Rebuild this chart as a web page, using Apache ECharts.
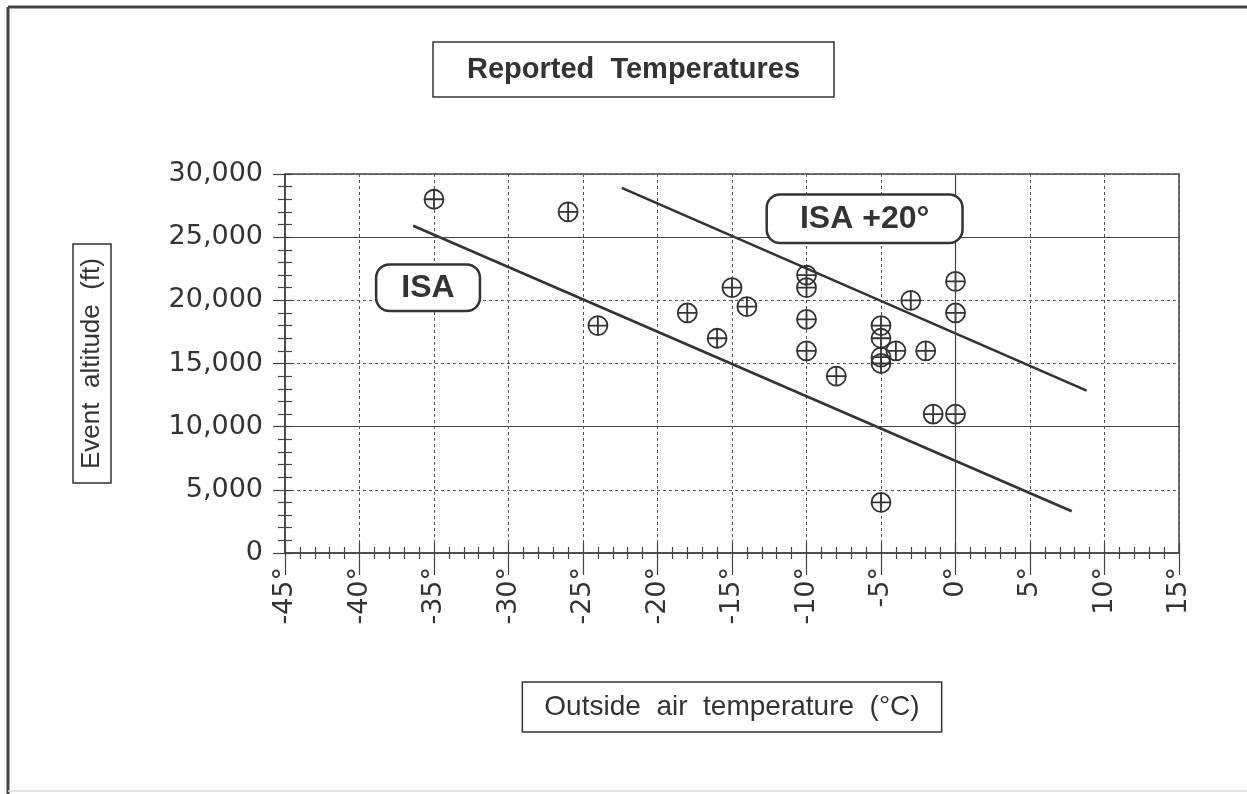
<!DOCTYPE html>
<html>
<head>
<meta charset="utf-8">
<script src="https://cdn.jsdelivr.net/npm/echarts@6/dist/echarts.min.js"></script>
<style>
  html, body { margin: 0; padding: 0; background: #fff; }
  #chart { width: 1247px; height: 794px; }
</style>
</head>
<body>
<div id="chart"></div>
<script>
// reported events: outside air temp (deg C) and altitude (ft)
const temps = [-35, -26, -24, -18, -16, -15, -14, -10, -10, -10, -10, -8, -5, -5, -5, -5, -5, -4, -3, -2, -1.5, 0, 0, 0]
const alts = [28000, 27000, 18000, 19000, 17000, 21000, 19500, 22000, 21000, 18500, 16000, 14000, 18000, 17000, 15500, 15000, 4000, 16000, 20000, 16000, 11000, 11000, 19000, 21500]

// reference lines (end points)
const isaT = [-36.4, 7.8]
const isaAlt = [25900, 3300]
const isa20T = [-22.4, 8.8]
const isa20Alt = [28900, 12850]

// label anchors
const isaLabelPos = [-35.4, 21000]
const isa20LabelPos = [-6.1, 26450]

const xTicks = { min: -45, max: 15, step: 5 }
const yTicks = { min: 0, max: 30000, step: 5000 }

const ink = '#333'
const font = 'Liberation Sans, Arial, Helvetica, sans-serif'
const tickFont = 'DejaVu Sans, Liberation Sans, sans-serif'

const pairs = (xs, ys) => xs.map((x, i) => [x, ys[i]])

const oplus = 'path://M10,0A10,10,0,1,1,10,20A10,10,0,1,1,10,0ZM0,10L20,10M10,0L10,20'

const boxLabel = (text, pad) => ({
  show: true,
  position: 'inside',
  formatter: text,
  fontFamily: font,
  fontWeight: 'bold',
  fontSize: 32,
  lineHeight: 32,
  color: ink,
  backgroundColor: '#fff',
  borderColor: ink,
  borderWidth: 2.5,
  borderRadius: 12,
  padding: pad
})

const chart = echarts.init(document.getElementById('chart'))

chart.setOption({
  backgroundColor: '#fff',
  animation: false,
  title: {
    text: 'Reported  Temperatures',
    left: 433,
    top: 42,
    padding: [12, 34, 12, 34],
    borderColor: ink,
    borderWidth: 1.5,
    textStyle: { fontFamily: font, fontSize: 29, fontWeight: 'bold', color: ink, lineHeight: 31 }
  },
  graphic: [
    { type: 'line', shape: { x1: 8, y1: 7, x2: 1247, y2: 7 }, style: { stroke: '#444', lineWidth: 3 } },
    { type: 'line', shape: { x1: 8, y1: 7, x2: 8, y2: 794 }, style: { stroke: '#444', lineWidth: 3 } },
    { type: 'line', shape: { x1: 8, y1: 791, x2: 1247, y2: 791 }, style: { stroke: '#ddd', lineWidth: 1.5 } }
  ],
  grid: {
    left: 285, right: 68, top: 174, bottom: 241,
    show: true, borderColor: '#444', borderWidth: 1.5
  },
  xAxis: [{
    type: 'value',
    position: 'bottom',
    min: xTicks.min, max: xTicks.max, interval: xTicks.step,
    axisLine: { onZero: false, lineStyle: { color: '#444', width: 1.5 } },
    axisTick: { length: 22, lineStyle: { color: '#444', width: 1.2 } },
    minorTick: { show: true, splitNumber: 5, length: 6, lineStyle: { color: '#444', width: 1.2 } },
    splitLine: { lineStyle: { color: '#555', type: [3, 3], width: 1 } },
    axisLabel: {
      rotate: 90, margin: 14,
      fontFamily: tickFont, fontSize: 27, color: ink,
      formatter: v => v + '°'
    },
    name: 'Outside  air  temperature  (°C)',
    nameLocation: 'middle',
    nameGap: 129,
    nameTextStyle: {
      fontFamily: font, fontSize: 28, color: ink,
      borderColor: ink, borderWidth: 1.5,
      padding: [11, 22, 11, 22]
    }
  }, {
    type: 'value',
    position: 'bottom',
    min: xTicks.min, max: xTicks.max, interval: xTicks.step,
    axisLine: { show: false, onZero: false },
    axisTick: { inside: true, length: 10, lineStyle: { color: '#444', width: 1.2 } },
    minorTick: { show: true, splitNumber: 5, length: 6, lineStyle: { color: '#444', width: 1.2 } },
    splitLine: { show: false },
    axisLabel: { show: false }
  }],
  yAxis: [{
    type: 'value',
    position: 'left',
    min: yTicks.min, max: yTicks.max, interval: yTicks.step,
    axisLine: { show: true, onZero: false, lineStyle: { color: '#444', width: 1.5 } },
    axisTick: { show: true, length: 12, lineStyle: { color: '#444', width: 1.2 } },
    minorTick: { show: true, splitNumber: 5, length: 7, lineStyle: { color: '#444', width: 1.2 } },
    splitLine: { lineStyle: { color: '#555', type: [3, 3], width: 1 } },
    axisLabel: {
      margin: 22,
      fontFamily: tickFont, fontSize: 27, color: ink,
      formatter: v => v.toLocaleString('en-US')
    },
    name: 'Event  altitude  (ft)',
    nameLocation: 'middle',
    nameRotate: 90,
    nameGap: 174,
    nameTextStyle: {
      fontFamily: font, fontSize: 26, color: ink,
      borderColor: ink, borderWidth: 1.5,
      padding: [6, 14, 6, 14]
    }
  }, {
    type: 'value',
    position: 'left',
    min: yTicks.min, max: yTicks.max, interval: yTicks.step,
    axisLine: { show: false, onZero: false },
    axisTick: { show: true, inside: true, length: 7, lineStyle: { color: '#444', width: 1.2 } },
    minorTick: { show: true, splitNumber: 5, length: 7, lineStyle: { color: '#444', width: 1.2 } },
    splitLine: { show: false },
    axisLabel: { show: false }
  }],
  series: [
    {
      name: 'grid accents',
      type: 'line',
      data: [],
      silent: true,
      markLine: {
        silent: true,
        symbol: 'none',
        label: { show: false },
        lineStyle: { color: '#444', type: 'solid', width: 1.2 },
        data: [{ yAxis: 25000 }, { yAxis: 10000 }, { xAxis: 0 }]
      }
    },
    {
      name: 'ISA',
      type: 'line',
      data: pairs(isaT, isaAlt),
      symbol: 'none',
      lineStyle: { color: ink, width: 2.6 },
      markPoint: {
        symbol: 'rect', symbolSize: 1,
        itemStyle: { color: 'rgba(0,0,0,0)' },
        label: boxLabel('ISA', [6, 24, 6, 24]),
        data: [{ coord: isaLabelPos }]
      }
    },
    {
      name: 'ISA +20°',
      type: 'line',
      data: pairs(isa20T, isa20Alt),
      symbol: 'none',
      lineStyle: { color: ink, width: 2.6 },
      markPoint: {
        symbol: 'rect', symbolSize: 1,
        itemStyle: { color: 'rgba(0,0,0,0)' },
        label: boxLabel('ISA +20°', [7, 32, 7, 32]),
        data: [{ coord: isa20LabelPos }]
      }
    },
    {
      name: 'Reported',
      type: 'scatter',
      data: pairs(temps, alts),
      symbol: oplus,
      symbolSize: 19,
      itemStyle: { color: 'rgba(0,0,0,0)', borderColor: ink, borderWidth: 1.8, opacity: 1 }
    }
  ]
})
</script>
</body>
</html>
